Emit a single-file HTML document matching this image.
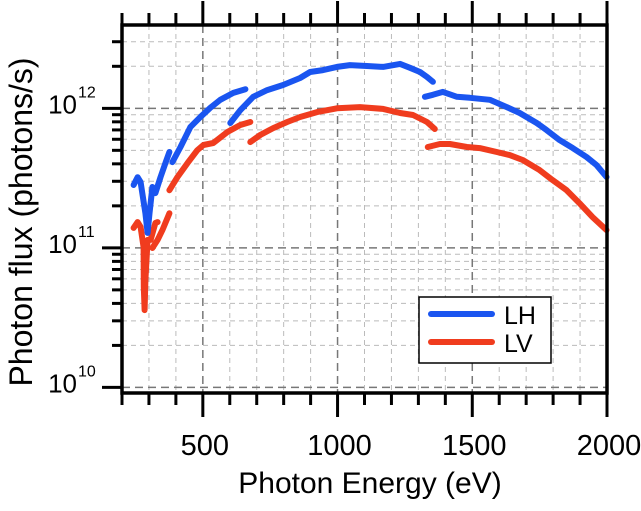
<!DOCTYPE html>
<html><head><meta charset="utf-8">
<style>
body{margin:0;background:#fff;}
svg{display:block;font-family:"Liberation Sans",Arial,sans-serif;}
</style></head>
<body>
<svg id="chart" width="641" height="511" viewBox="0 0 641 511" xmlns="http://www.w3.org/2000/svg">
<g id="grid"></g>
<g id="series"></g>
<g id="axes"></g>
<text x="370" y="493" font-size="30" text-anchor="middle">Photon Energy (eV)</text>
<text transform="translate(32,222) rotate(-90)" font-size="32" text-anchor="middle">Photon flux (photons/s)</text>
<g>
<rect x="419" y="297" width="132" height="66" fill="#fff" stroke="#000" stroke-width="1.5"/>
<line x1="431" y1="314" x2="492" y2="314" stroke="#1a55f0" stroke-width="6" stroke-linecap="round"/>
<text x="504" y="324" font-size="25">LH</text>
<line x1="431" y1="342" x2="492" y2="342" stroke="#f03c1e" stroke-width="6" stroke-linecap="round"/>
<text x="504" y="352" font-size="25">LV</text>
</g>
</svg>
<script>
const xTicks=[500,1000,1500,2000];
const yDecades=[10,11,12];
const lhSegments=[
[[243,2.82e11],[258,3.21e11],[269,2.96e11],[287,1.77e11],[295,1.28e11],[302,1.77e11],[313,2.73e11],[324,2.47e11],[343,3.21e11],[361,4.05e11],[376,4.86e11]],
[[387,4.12e11],[417,5.28e11],[454,7.35e11],[491,8.67e11],[528,1.01e12],[565,1.15e12],[613,1.29e12],[658,1.37e12]],
[[602,7.85e11],[639,9.7e11],[687,1.21e12],[739,1.35e12],[798,1.47e12],[861,1.65e12],[898,1.82e12],[946,1.88e12],[998,1.98e12],[1046,2.04e12],[1109,2.01e12],[1169,1.98e12],[1232,2.08e12],[1269,1.95e12],[1306,1.82e12],[1332,1.68e12],[1354,1.55e12]],
[[1324,1.21e12],[1354,1.25e12],[1391,1.31e12],[1443,1.21e12],[1491,1.19e12],[1565,1.15e12],[1628,1.02e12],[1676,9.25e11],[1739,7.85e11],[1776,6.98e11],[1824,5.92e11],[1873,5.19e11],[1924,4.48e11],[1961,3.92e11],[1998,3.22e11]]
];
const lvSegments=[
[[243,1.39e11],[258,1.53e11],[269,1.41e11],[280,1.01e11],[281,5.24e10],[284,3.58e10],[287,5.87e10],[295,1.14e11],[306,1.14e11],[324,1.51e11],[332,1.53e11]],
[[313,9.97e10],[332,1.14e11],[350,1.34e11],[376,1.77e11]],
[[376,2.59e11],[406,3.22e11],[443,4.05e11],[480,5.02e11],[502,5.46e11],[539,5.64e11],[591,6.76e11],[639,7.59e11],[676,7.98e11]],
[[676,5.73e11],[713,6.44e11],[761,7.22e11],[813,7.98e11],[861,8.67e11],[924,9.4e11],[998,1.0e12],[1083,1.02e12],[1169,9.9e11],[1232,9.25e11],[1280,8.95e11],[1332,7.98e11],[1361,7.11e11]],
[[1335,5.28e11],[1380,5.55e11],[1417,5.55e11],[1480,5.28e11],[1528,5.19e11],[1591,4.86e11],[1639,4.62e11],[1687,4.26e11],[1750,3.61e11],[1798,3.06e11],[1850,2.59e11],[1898,2.09e11],[1946,1.66e11],[1998,1.34e11]]
];
const L=122,R=607,T=25,B=393;
const xMin=200,xMax=2000, yMinLog=9.96, yMaxLog=12.597;
function xs(v){return L+(v-xMin)/(xMax-xMin)*(R-L);}
function ys(v){return B-(Math.log10(v)-yMinLog)/(yMaxLog-yMinLog)*(B-T);}
const NS='http://www.w3.org/2000/svg';
function mk(tag,attrs,parent){const e=document.createElementNS(NS,tag);for(const k in attrs)e.setAttribute(k,attrs[k]);parent.appendChild(e);return e;}
const grid=document.getElementById('grid'),axes=document.getElementById('axes'),series=document.getElementById('series');
for(let v=300;v<=1900;v+=100){
  const x=xs(v),major=xTicks.includes(v);
  const gl=mk('line',{x1:x,y1:T,x2:x,y2:B,stroke:major?'#777':'#bbb','stroke-width':major?1.5:1,'stroke-dasharray':major?'8,5':'5,4'},grid);
  
  
}
for(let v=200;v<=2000;v+=100){
  const x=xs(v),major=xTicks.includes(v);
  const t1=mk('line',{x1:x,y1:B,x2:x,y2:B+(major?24:12),stroke:'#000','stroke-width':3},axes);
  
  
  const t2=mk('line',{x1:x,y1:T,x2:x,y2:T-(major?24:12),stroke:'#000','stroke-width':3},axes);
  
  
}
xTicks.forEach(v=>{
  const t=mk('text',{x:xs(v)+2,y:455,'font-size':29,'text-anchor':'middle'},axes);
  t.textContent=v;
  
  
});
for(let d=9;d<=12;d++){
  for(let m=1;m<=9;m++){
    const v=m*Math.pow(10,d),lg=Math.log10(v);
    if(lg<yMinLog||lg>yMaxLog)continue;
    const y=ys(v),major=m===1;
    const gl=mk('line',{x1:L,y1:y,x2:R,y2:y,stroke:major?'#777':'#bbb','stroke-width':major?1.5:1,'stroke-dasharray':major?'8,5':'5,4'},grid);
    
    
    const tk=mk('line',{x1:L,y1:y,x2:L-(major?20:10),y2:y,stroke:'#000','stroke-width':3},axes);
    
    
  }
}
yDecades.forEach(d=>{
  const y=ys(Math.pow(10,d));
  const t=mk('text',{x:77,y:y+5,'font-size':26,'text-anchor':'end'},axes);
  t.textContent='10';
  
  
  const s=mk('text',{x:78,y:y-11,'font-size':16},axes);
  s.textContent=String(d);
  
  
});
const frame=mk('rect',{x:L,y:T,width:R-L,height:B-T,fill:'none',stroke:'#000','stroke-width':3.5},axes);


function draw(segs,color,name){
  segs.forEach(seg=>{
    const d=seg.map((p,i)=>(i?'L':'M')+xs(p[0]).toFixed(1)+','+ys(p[1]).toFixed(1)).join(' ');
    const p=mk('path',{d:d,fill:'none',stroke:color,'stroke-width':6,'stroke-linecap':'round','stroke-linejoin':'round'},series);
    
    
  });
}
draw(lvSegments,'#f03c1e','lv-line');
draw(lhSegments,'#1a55f0','lh-line');
</script>
</body></html>
